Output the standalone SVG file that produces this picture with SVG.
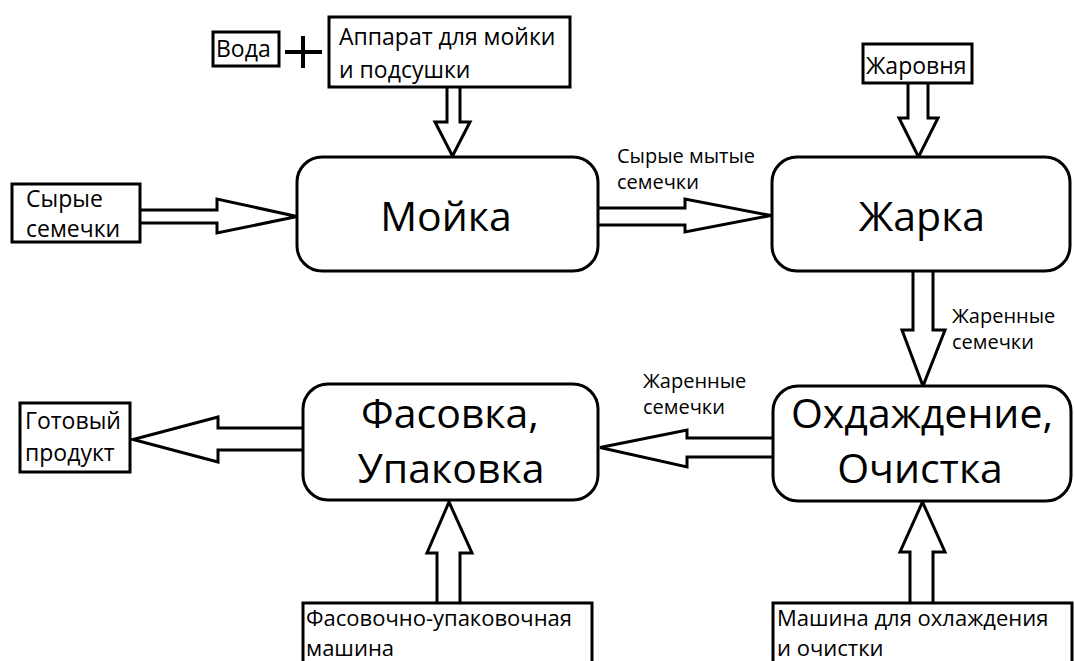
<svg xmlns="http://www.w3.org/2000/svg" width="1074" height="661" viewBox="0 0 1074 661">
<style>
.box{fill:#fff;stroke:#000;stroke-width:3}
.arr{fill:#fff;stroke:#000;stroke-width:3;stroke-linejoin:miter}
.big{font-family:"Open Sans","Liberation Sans",sans-serif;font-size:41px;fill:#000;text-anchor:middle}
.mid{font-family:"Open Sans","Liberation Sans",sans-serif;font-size:23px;fill:#000}
.bot{font-family:"Open Sans","Liberation Sans",sans-serif;font-size:22px;fill:#000}
.sm{font-family:"Open Sans","Liberation Sans",sans-serif;font-size:20px;fill:#000}
</style>
<rect width="1074" height="661" fill="#fff"/>
<g id="connectors">
<path class="arr" d="M140 210 L217 210 L217 199 L297 216.5 L217 233 L217 223 L140 223"/>
<path class="arr" d="M598 208 L685 208 L685 199 L771 215.5 L685 232 L685 225 L598 225"/>
<path class="arr" d="M447 87 L447 122 L435 122 L452.5 156 L470 122 L460 122 L460 87"/>
<path class="arr" d="M908 83 L908 118 L899 118 L918.5 157 L938 118 L928 118 L928 83"/>
<path class="arr" d="M913 272 L913 330 L902 330 L923 386 L945 330 L933 330 L933 272"/>
<path class="arr" d="M773 438 L687 438 L687 430 L600 447.5 L687 467 L687 457 L773 457"/>
<path class="arr" d="M302 428 L218 428 L218 417 L133 439.5 L218 462 L218 450 L302 450"/>
<path class="arr" d="M437 603 L437 553 L427 553 L449 502 L472 553 L460 553 L460 603"/>
<path class="arr" d="M910 603 L910 552 L900 552 L922.5 502 L945 552 L933 552 L933 603"/>
<path d="M285 52 L322 52 M303 36 L303 68" stroke="#000" stroke-width="4" fill="none"/>
</g>
<g id="voda"><rect class="box" x="213" y="32" width="66" height="34"/><text class="mid" x="216" y="57">Вода</text></g>
<g id="apparat"><rect class="box" x="329" y="17" width="241" height="70"/><text class="mid" x="339" y="45">Аппарат для мойки</text><text class="mid" x="339" y="78">и подсушки</text></g>
<g id="raw"><rect class="box" x="12" y="184" width="128" height="58"/><text class="mid" x="26" y="207">Сырые</text><text class="mid" x="26" y="237">семечки</text></g>
<g id="zharovnya"><rect class="box" x="863" y="44" width="109" height="39"/><text class="mid" x="866" y="74">Жаровня</text></g>
<g id="ready"><rect class="box" x="20" y="403" width="110" height="69"/><text class="mid" x="25" y="429">Готовый</text><text class="mid" x="25" y="461">продукт</text></g>
<g id="pack-machine"><rect class="box" x="303" y="603" width="289" height="70"/><text class="bot" x="306" y="626">Фасовочно-упаковочная</text><text class="bot" x="306" y="656">машина</text></g>
<g id="cool-machine"><rect class="box" x="773" y="603" width="299" height="70"/><text class="bot" x="777" y="626">Машина для охлаждения</text><text class="bot" x="777" y="656">и очистки</text></g>
<g id="moyka"><rect class="box" x="297" y="157" width="301" height="114" rx="25"/><text class="big" x="446" y="231">Мойка</text></g>
<g id="zharka"><rect class="box" x="772" y="157" width="298" height="114" rx="25"/><text class="big" x="922" y="231">Жарка</text></g>
<g id="fasovka"><rect class="box" x="303" y="384" width="295" height="116" rx="25"/><text class="big" x="450" y="428">Фасовка,</text><text class="big" x="451" y="483">Упаковка</text></g>
<g id="ohl"><rect class="box" x="773" y="386" width="298" height="115" rx="25"/><text class="big" x="922" y="428">Охдаждение,</text><text class="big" x="920" y="483">Очистка</text></g>
<g id="labels">
<text class="sm" x="617" y="163">Сырые мытые</text><text class="sm" x="617" y="189">семечки</text>
<text class="sm" x="952" y="323">Жаренные</text><text class="sm" x="952" y="349">семечки</text>
<text class="sm" x="643" y="388">Жаренные</text><text class="sm" x="643" y="414">семечки</text>
</g>
</svg>
